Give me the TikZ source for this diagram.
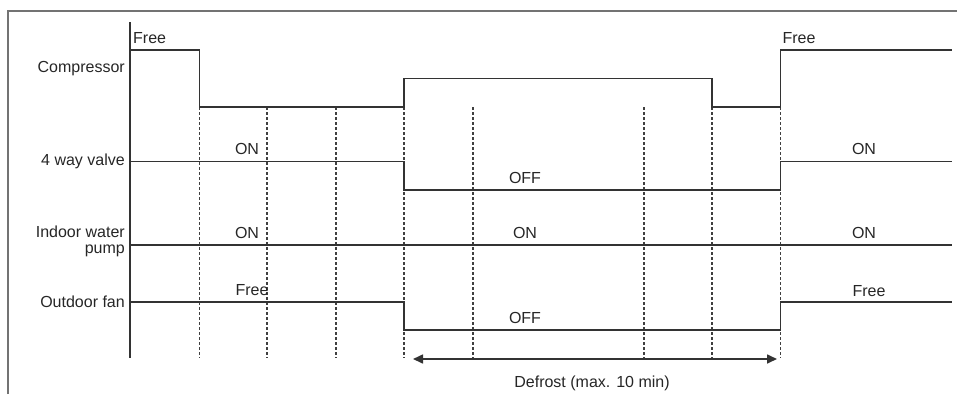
\documentclass[tikz,border=0pt]{standalone}
\usepackage{fontspec}
\setmainfont{Liberation Sans}
\usetikzlibrary{arrows.meta}
\begin{document}
\begin{tikzpicture}[x=1pt,y=-1pt,
  sig/.style={draw=black!80,line width=1.6pt},
  guide/.style={draw=black!75,line width=1.4pt,dash pattern=on 2.5pt off 2.5pt},
  frm/.style={draw=black!55,line width=2.2pt},
  lbl/.style={font=\fontsize{16}{17.5}\selectfont,inner sep=0pt,text=black!85},
  rlbl/.style={lbl,anchor=east,align=right}]
\useasboundingbox (0,0) rectangle (957,394);
\draw[frm] (8,394) -- (8,11) -- (957,11);
% axis
\coordinate (axT) at (130,22);
\coordinate (axB) at (130,358);
\draw[sig] (axT) -- (axB);
% guides
\foreach \x in {199.5,267,336,404,473,644,712,780.5}{
  \draw[guide] (\x,107) -- (\x,358);
}
% compressor
\draw[sig] (130,50) -- (199.5,50) -- (199.5,107) -- (404,107) -- (404,78.5) -- (712,78.5) -- (712,107) -- (780.5,107) -- (780.5,50) -- (952,50);
% 4 way valve
\draw[sig] (130,161.5) -- (404,161.5) -- (404,190) -- (780.5,190) -- (780.5,161.5) -- (952,161.5);
% indoor water pump
\draw[sig] (130,245) -- (952,245);
% outdoor fan
\draw[sig] (130,302) -- (404,302) -- (404,330) -- (780.5,330) -- (780.5,302) -- (952,302);
% defrost arrow
\coordinate (dA) at (404,359);
\coordinate (dB) at (780.5,359);
\draw[sig,{Triangle[length=10pt,width=9pt]}-{Triangle[length=10pt,width=9pt]},shorten <=9pt,shorten >=3.5pt] (dA) -- (dB);
\node[lbl] (defr) at (592,383) {Defrost (max. 10 min)};
% left labels
\node[rlbl] (lcomp) at (125,69) {Compressor};
\node[rlbl] (lval) at (125,161) {4 way valve};
\node[rlbl] (lpump) at (125,241) {Indoor water\\[-1.5pt]pump};
\node[rlbl] (lfan) at (125,302) {Outdoor fan};
% state labels
\node[lbl,anchor=west] (f1) at (133,38) {Free};
\node[lbl] (f2) at (799,38) {Free};
\node[lbl] (on1) at (247,149) {ON};
\node[lbl] (off1) at (525,178) {OFF};
\node[lbl] (on2) at (864,149) {ON};
\node[lbl] (on3) at (247,233) {ON};
\node[lbl] (on4) at (525,233) {ON};
\node[lbl] (on5) at (864,233) {ON};
\node[lbl] (f3) at (252,290) {Free};
\node[lbl] (off2) at (525,318) {OFF};
\node[lbl] (f4) at (869,291) {Free};
\end{tikzpicture}
\end{document}
